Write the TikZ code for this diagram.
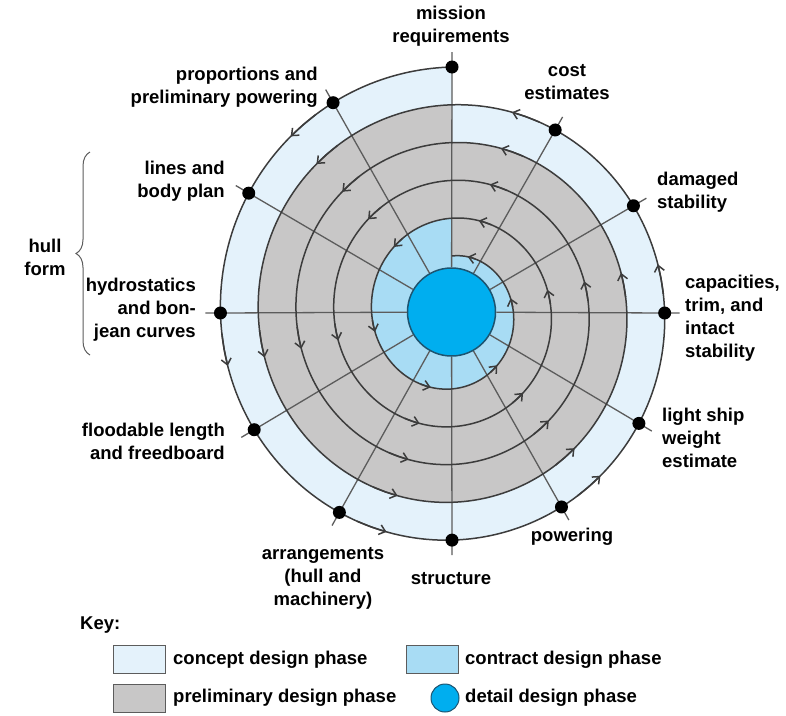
\documentclass[tikz,border=0pt]{standalone}
\usepackage{fontspec}
\setmainfont{Liberation Sans}
\usepackage{xcolor}
\usepackage{tikz}
\usetikzlibrary{calc,arrows.meta,decorations.pathreplacing}

\definecolor{conceptblue}{HTML}{E4F2FB}
\definecolor{prelimgray}{HTML}{C8C7C7}
\definecolor{contractblue}{HTML}{A8DCF4}
\definecolor{detailcyan}{HTML}{00AEEF}
\definecolor{rimblue}{HTML}{1D5470}
\definecolor{linegray}{HTML}{3C3C3C}
\definecolor{spokegray}{HTML}{5C5C5C}

% spiral centre and radius (shrinks 0.105 per degree)
\def\cx{452}
\def\cy{313}
\newcommand{\spx}[1]{\cx-(241-0.105*(#1))*sin(#1)}
\newcommand{\spy}[1]{\cy-(246-0.105*(#1))*cos(#1)}

\begin{document}
\begin{tikzpicture}[x=1pt,y=-1pt,
  lbl/.style={font=\fontsize{18.5}{23}\selectfont\bfseries, inner sep=0pt},
  spiral/.style={draw=linegray, line width=1.5pt},
  spoke/.style={draw=spokegray, line width=1.3pt},
  dot/.style={circle, fill=black, minimum size=13pt, inner sep=0pt},
  keybox/.style={draw=spokegray, line width=1pt},
  flow/.style={spiral, -{Straight Barb[length=6pt,width=10pt]}}]
\useasboundingbox (0,0) rectangle (786,715);

% phases
\fill[conceptblue] plot[domain=0:360,samples=145] ({\spx{\x}},{\spy{\x}}) -- cycle;
\fill[prelimgray] plot[domain=360:720,samples=145] ({\spx{\x}},{\spy{\x}}) -- cycle;
\fill[contractblue] plot[domain=1440:1800,samples=145] ({\spx{\x}},{\spy{\x}}) -- cycle;

\node[circle, fill=detailcyan, draw=rimblue, line width=1.5pt, minimum size=88pt, inner sep=0pt] (core) at (451.5,312) {};

% spokes
\foreach \k/\nm in {0/mission,1/proport,2/lines,3/hydro,4/flood,5/arrange,6/struct,7/power,8/light,9/capac,10/damaged,11/cost} {
  \coordinate (d\nm) at ({\spx{30*\k}},{\spy{30*\k}});
  \coordinate (t\nm) at ($(d\nm)!-15pt!(core)$);
  \draw[spoke] (t\nm) -- (core);
}

% the spiral
\draw[spiral] plot[domain=0:1800,samples=1441] ({\spx{\x}},{\spy{\x}});
\foreach \j in {0,...,4}
  \foreach \k in {0,...,5} {
    \pgfmathsetmacro\a{43+60*\k+360*\j}
    \draw[flow] plot[domain=\a-8:\a,samples=3] ({\spx{\x}},{\spy{\x}});
  }

\foreach \nm in {mission,proport,lines,hydro,flood,arrange,struct,power,light,capac,damaged,cost}
  \node[dot] (p\nm) at (d\nm) {};

% labels
\node[lbl, align=center] (lmission) at (451,26) {mission\\requirements};
\node[lbl, align=right, anchor=east] (lproport) at (318,87) {proportions and\\preliminary powering};
\node[lbl, align=right, anchor=east] (llines) at (225,181) {lines and\\body plan};
\node[lbl, align=right, anchor=east] (lhydro) at (196,310) {hydrostatics\\and bon-\\jean curves};
\node[lbl, align=right, anchor=east] (lflood) at (225,441) {floodable length\\and freedboard};
\node[lbl, align=center] (larrange) at (323,578) {arrangements\\(hull and\\machinery)};
\node[lbl] (lstruct) at (451,579) {structure};
\node[lbl] (lpower) at (572,537) {powering};
\node[lbl, align=left, anchor=west] (llight) at (662,438) {light ship\\weight\\estimate};
\node[lbl, align=left, anchor=west] (lcapac) at (685,318) {capacities,\\trim, and\\intact\\stability};
\node[lbl, align=left, anchor=west] (ldamaged) at (657,192) {damaged\\stability};
\node[lbl, align=center] (lcost) at (567,82) {cost\\estimates};

% hull form
\node[lbl, align=center] (lhull) at (45,257) {hull\\form};
\draw[spokegray, line width=1pt, decorate, decoration={brace, amplitude=14pt}] (90,355) -- (90,152);

% key
\node[lbl, anchor=west] (lkey) at (80,625) {Key:};
\draw[keybox, fill=conceptblue] (113,645) rectangle (165,673);
\node[lbl, anchor=west] (kconcept) at (173,660) {concept design phase};
\draw[keybox, fill=contractblue] (406,645) rectangle (458,673);
\node[lbl, anchor=west] (kcontract) at (465,660) {contract design phase};
\draw[keybox, fill=prelimgray] (113,684) rectangle (165,712);
\node[lbl, anchor=west] (kprelim) at (173,698) {preliminary design phase};
\draw[keybox, draw=rimblue, fill=detailcyan] (445,698) circle (14);
\node[lbl, anchor=west] (kdetail) at (465,698) {detail design phase};
\end{tikzpicture}
\end{document}
